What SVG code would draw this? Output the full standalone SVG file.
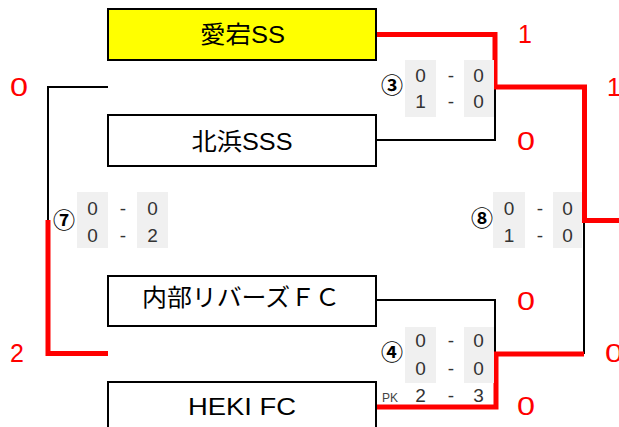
<svg xmlns="http://www.w3.org/2000/svg" width="619" height="427" viewBox="0 0 619 427">
<style>
.box{fill:#fff;stroke:#000;stroke-width:2}
.team{font-family:"Liberation Sans","Noto Sans CJK JP",sans-serif;font-size:24px;fill:#000;text-anchor:middle}
.blk{fill:none;stroke:#000;stroke-width:2}
.red{fill:none;stroke:#f00;stroke-width:5}
.rn{font-family:"Liberation Sans",sans-serif;font-size:25px;fill:#f00}
.gray{fill:#f0f0f0}
.sc{font-family:"Liberation Sans",sans-serif;font-size:19px;fill:#333;text-anchor:middle}
.cir{font-family:"Noto Sans CJK JP",sans-serif;font-size:22px;font-weight:700;fill:#000;text-anchor:middle}
.pk{font-family:"Liberation Sans",sans-serif;font-size:12px;fill:#444}
</style>
<rect width="619" height="427" fill="#fff"/>
<g id="connectors">
<polyline class="blk" points="376,140 495,140 495,87"/>
<polyline class="blk" points="108,87 48,87 48,221"/>
<polyline class="blk" points="376,300 495,300 495,354"/>
<polyline class="blk" points="584,354 584,220"/>
<polyline class="red" points="376,34.5 495,34.5 495,87 584.5,87 584.5,220.5 619,220.5"/>
<polyline class="red" points="48,220 48,353.5 108,353.5"/>
<polyline class="red" points="376,407 496,407 496,354 584,354"/>
</g>
<g id="team-atago">
<rect class="box" x="108" y="9" width="268" height="51" style="fill:#ff0"/>
<text class="team" x="242.5" y="43" textLength="85" lengthAdjust="spacingAndGlyphs">愛宕SS</text>
</g>
<g id="team-kitahama">
<rect class="box" x="108" y="115" width="268" height="51"/>
<text class="team" x="242" y="150" textLength="101" lengthAdjust="spacingAndGlyphs">北浜SSS</text>
</g>
<g id="team-uchibe">
<rect class="box" x="108" y="276" width="268" height="50"/>
<text class="team" x="241" y="306" textLength="198" lengthAdjust="spacingAndGlyphs">内部リバーズＦＣ</text>
</g>
<g id="team-heki">
<rect class="box" x="108" y="382" width="268" height="60"/>
<text class="team" x="242" y="415" textLength="108" lengthAdjust="spacingAndGlyphs">HEKI FC</text>
</g>
<g id="match3">
<rect class="gray" x="405" y="60" width="31" height="57"/>
<rect class="gray" x="464" y="60" width="30" height="57"/>
<text class="cir" x="392" y="93">③</text>
<text class="sc" x="420.5" y="82">0</text><text class="sc" x="451" y="82">-</text><text class="sc" x="478.5" y="82">0</text>
<text class="sc" x="420.5" y="108">1</text><text class="sc" x="451" y="108">-</text><text class="sc" x="478.5" y="108">0</text>
</g>
<g id="match7">
<rect class="gray" x="77" y="192" width="31" height="56"/>
<rect class="gray" x="137" y="192" width="31" height="56"/>
<text class="cir" x="64" y="228">⑦</text>
<text class="sc" x="92.5" y="215">0</text><text class="sc" x="123" y="215">-</text><text class="sc" x="152.5" y="215">0</text>
<text class="sc" x="92.5" y="242">0</text><text class="sc" x="123" y="242">-</text><text class="sc" x="152.5" y="242">2</text>
</g>
<g id="match8">
<rect class="gray" x="493" y="192" width="32" height="56"/>
<rect class="gray" x="553" y="192" width="29" height="56"/>
<text class="cir" x="482" y="226">⑧</text>
<text class="sc" x="509" y="215">0</text><text class="sc" x="540" y="215">-</text><text class="sc" x="567.5" y="215">0</text>
<text class="sc" x="509" y="242">1</text><text class="sc" x="540" y="242">-</text><text class="sc" x="567.5" y="242">0</text>
</g>
<g id="match4">
<rect class="gray" x="405" y="327" width="31" height="56"/>
<rect class="gray" x="464" y="327" width="30" height="56"/>
<text class="cir" x="392" y="360">④</text>
<text class="sc" x="420.5" y="347">0</text><text class="sc" x="451" y="347">-</text><text class="sc" x="478.5" y="347">0</text>
<text class="sc" x="420.5" y="375">0</text><text class="sc" x="451" y="375">-</text><text class="sc" x="478.5" y="375">0</text>
<text class="pk" x="382" y="402">PK</text>
<text class="sc" x="420.5" y="402">2</text><text class="sc" x="451" y="402">-</text><text class="sc" x="478.5" y="402">3</text>
</g>
<g id="red-scores">
<text class="rn" x="518" y="43">1</text>
<text class="rn" x="607" y="96">1</text>
<text class="rn" x="10" y="96" textLength="18" lengthAdjust="spacingAndGlyphs">0</text>
<text class="rn" x="517" y="150" textLength="18" lengthAdjust="spacingAndGlyphs">0</text>
<text class="rn" x="10" y="362">2</text>
<text class="rn" x="517" y="310" textLength="18" lengthAdjust="spacingAndGlyphs">0</text>
<text class="rn" x="605" y="362" textLength="18" lengthAdjust="spacingAndGlyphs">0</text>
<text class="rn" x="517" y="415" textLength="18" lengthAdjust="spacingAndGlyphs">0</text>
</g>
</svg>
